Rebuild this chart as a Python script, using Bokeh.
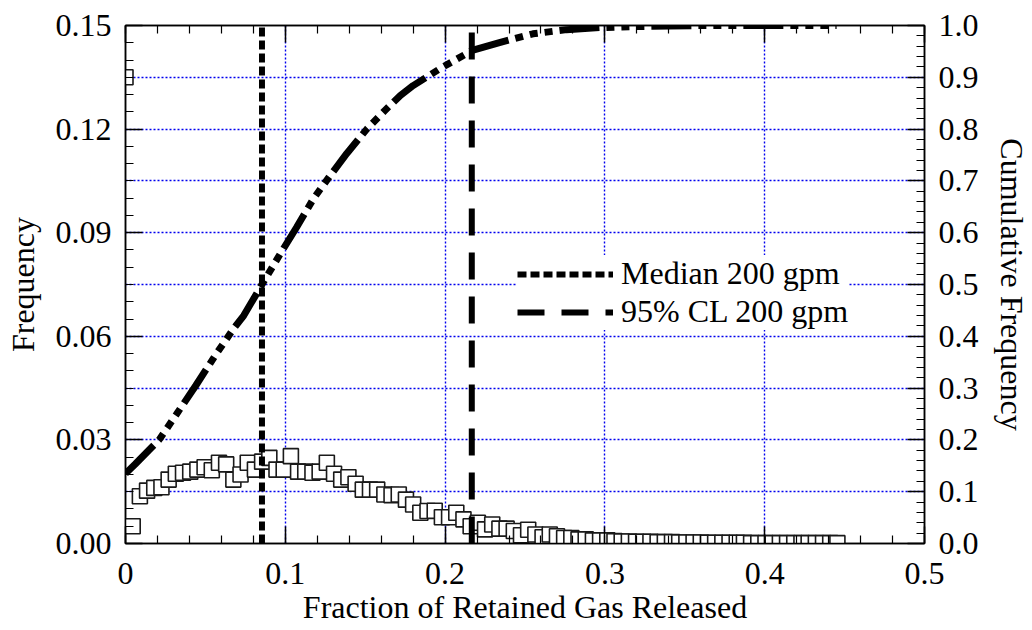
from bokeh.plotting import figure
from bokeh.models import Range1d, LinearAxis, FixedTicker, Grid, Legend, LegendItem
from bokeh.embed import file_html
from bokeh.resources import INLINE

# ---------------- data ----------------
# Frequency histogram (open squares), one value per bin
FREQ = [0.1350,
        0.0050, 0.0137, 0.0153, 0.0161, 0.0163, 0.0185, 0.0202, 0.0205, 0.0208, 0.0214,
        0.0221, 0.0212, 0.0234, 0.0229, 0.0185, 0.0200, 0.0234, 0.0214, 0.0237, 0.0248,
        0.0214, 0.0214, 0.0253, 0.0208, 0.0208, 0.0205, 0.0208, 0.0234, 0.0202, 0.0185,
        0.0192, 0.0173, 0.0156, 0.0156, 0.0156, 0.0142, 0.0140, 0.0142, 0.0127, 0.0113,
        0.0089, 0.0094, 0.0095, 0.0076, 0.0076, 0.0089, 0.0070, 0.0050, 0.0060, 0.0041,
        0.0055, 0.0043, 0.0043, 0.0036, 0.0024, 0.0040, 0.0026, 0.0018, 0.0026, 0.0021,
        0.0016, 0.0016, 0.0012, 0.0012, 0.0009, 0.0009, 0.0009, 0.0007, 0.0006, 0.0006,
        0.0005, 0.0005, 0.0005, 0.0004, 0.0004, 0.0004, 0.0003, 0.0003, 0.0003, 0.0003,
        0.0002, 0.0002, 0.0002, 0.0002, 0.0002, 0.0002, 0.0001, 0.0001, 0.0001, 0.0001,
        0.0001, 0.0001, 0.0001, 0.0001, 0.0001, 0.0001, 0.0001, 0.0001, 0.0001]
BIN_WIDTH = 0.0045
FREQ_X = [round(i * BIN_WIDTH, 4) for i in range(len(FREQ))]

# Cumulative frequency curve
CUM_X = [0.000, 0.006, 0.0146, 0.021, 0.032, 0.044, 0.057, 0.0677, 0.074, 0.0854,
         0.097, 0.107, 0.1175, 0.128, 0.1385, 0.151, 0.162, 0.172, 0.180, 0.197,
         0.217, 0.234, 0.255, 0.276, 0.297, 0.318, 0.340, 0.360, 0.400, 0.445]
CUM_Y = [0.135, 0.153, 0.180, 0.200, 0.250, 0.305, 0.367, 0.415, 0.440, 0.500,
         0.560, 0.610, 0.665, 0.710, 0.753, 0.800, 0.835, 0.865, 0.884, 0.917,
         0.952, 0.967, 0.984, 0.992, 0.996, 0.998, 0.999, 1.000, 1.000, 1.000]

MEDIAN_X = 0.0854
CL95_X = 0.2167
SERIES_LABELS = ["Median 200 gpm", "95% CL 200 gpm"]

X_MIN, X_MAX = 0.0, 0.5
FREQ_MIN, FREQ_MAX = 0.0, 0.15
CUM_MIN, CUM_MAX = 0.0, 1.0

X_TICKS = [0.0, 0.1, 0.2, 0.3, 0.4, 0.5]
X_TICK_LABELS = ["0", "0.1", "0.2", "0.3", "0.4", "0.5"]
FREQ_TICKS = [0.0, 0.03, 0.06, 0.09, 0.12, 0.15]
FREQ_TICK_LABELS = ["0.00", "0.03", "0.06", "0.09", "0.12", "0.15"]
CUM_TICKS = [0.0, 0.1, 0.2, 0.3, 0.4, 0.5, 0.6, 0.7, 0.8, 0.9, 1.0]
CUM_TICK_LABELS = ["0.0", "0.1", "0.2", "0.3", "0.4", "0.5", "0.6", "0.7", "0.8", "0.9", "1.0"]

X_LABEL = "Fraction of Retained Gas Released"
Y_LABEL = "Frequency"
Y2_LABEL = "Cumulative Frequency"

# ---------------- figure ----------------
FONT = "Liberation Serif"
FS = "32px"

p = figure(width=1032, height=630, output_backend="svg", toolbar_location=None,
           x_range=Range1d(X_MIN, X_MAX), y_range=Range1d(FREQ_MIN, FREQ_MAX),
           x_axis_type=None, y_axis_type=None,
           min_border_left=125, min_border_right=105, min_border_top=25, min_border_bottom=87)
p.extra_y_ranges = {"cum": Range1d(CUM_MIN, CUM_MAX)}
p.outline_line_color = "black"
p.outline_line_width = 1.5
p.background_fill_color = "white"
p.border_fill_color = "white"

x_minor = [round(0.02 * i, 3) for i in range(26)]
f_minor = [round(0.005 * i, 4) for i in range(31)]
c_minor = [round(0.02 * i, 3) for i in range(51)]


def style_axis(ax, standoff):
    ax.major_tick_in = 17
    ax.major_tick_out = 0
    ax.minor_tick_in = 8
    ax.minor_tick_out = 0
    ax.major_tick_line_width = 1.5
    ax.minor_tick_line_width = 1.2
    ax.major_tick_line_color = "black"
    ax.minor_tick_line_color = "black"
    ax.axis_line_color = "black"
    ax.axis_line_width = 1.5
    ax.major_label_text_font = FONT
    ax.major_label_text_font_size = FS
    ax.major_label_text_color = "black"
    ax.major_label_standoff = standoff
    ax.axis_label_text_font = FONT
    ax.axis_label_text_font_size = FS
    ax.axis_label_text_font_style = "normal"
    ax.axis_label_text_color = "black"


xaxis = LinearAxis(ticker=FixedTicker(ticks=X_TICKS, minor_ticks=x_minor),
                   major_label_overrides={t: l for t, l in zip(X_TICKS, X_TICK_LABELS)},
                   axis_label=X_LABEL)
style_axis(xaxis, 19)
xaxis.axis_label_standoff = 2
p.add_layout(xaxis, "below")

xtop = LinearAxis(ticker=FixedTicker(ticks=X_TICKS, minor_ticks=x_minor),
                  major_label_overrides={t: "" for t in X_TICKS})
style_axis(xtop, 0)
xtop.major_label_text_font_size = "0px"
p.add_layout(xtop, "above")

yaxis = LinearAxis(ticker=FixedTicker(ticks=FREQ_TICKS, minor_ticks=f_minor),
                   major_label_overrides={t: l for t, l in zip(FREQ_TICKS, FREQ_TICK_LABELS)},
                   axis_label=Y_LABEL)
style_axis(yaxis, 14)
yaxis.axis_label_standoff = 12
p.add_layout(yaxis, "left")

y2axis = LinearAxis(y_range_name="cum",
                    ticker=FixedTicker(ticks=CUM_TICKS, minor_ticks=c_minor),
                    major_label_overrides={t: l for t, l in zip(CUM_TICKS, CUM_TICK_LABELS)},
                    axis_label=Y2_LABEL)
style_axis(y2axis, 14)
y2axis.axis_label_standoff = 12
p.add_layout(y2axis, "right")

# grids (blue dotted)
xgrid = Grid(dimension=0, ticker=FixedTicker(ticks=[0.1, 0.2, 0.3, 0.4]))
ygrid = Grid(dimension=1, ticker=FixedTicker(ticks=[round(0.015 * i, 4) for i in range(1, 10)]))
for g in (xgrid, ygrid):
    g.grid_line_color = "#0000ee"
    g.grid_line_dash = "2 2"
    g.grid_line_width = 1.4
    p.add_layout(g)

# histogram squares
p.scatter(FREQ_X, FREQ, marker="square", size=15, fill_color="white",
          line_color="#1a1a1a", line_width=1.6)

# cumulative curve
p.line(CUM_X, CUM_Y, y_range_name="cum", line_color="black", line_width=7,
       line_dash="40 7 8 7 8 7 8 7")

# vertical reference lines
r_med = p.line([MEDIAN_X, MEDIAN_X], [FREQ_MIN, FREQ_MAX], line_color="black",
               line_width=6, line_dash="9 4")
r_cl = p.line([CL95_X, CL95_X], [FREQ_MIN, FREQ_MAX], line_color="black",
              line_width=6, line_dash="27 17")

legend = Legend(items=[LegendItem(label=SERIES_LABELS[0], renderers=[r_med]),
                       LegendItem(label=SERIES_LABELS[1], renderers=[r_cl])],
                location=(392, 213))
legend.background_fill_color = "white"
legend.background_fill_alpha = 1.0
legend.border_line_alpha = 0
legend.padding = 0
legend.margin = 0
legend.spacing = 1
legend.glyph_width = 96
legend.glyph_height = 36
legend.label_height = 36
legend.label_standoff = 8
legend.label_text_font = FONT
legend.label_text_font_size = FS
legend.label_text_color = "black"
p.add_layout(legend)

open("out.html", "w").write(file_html(p, INLINE))
